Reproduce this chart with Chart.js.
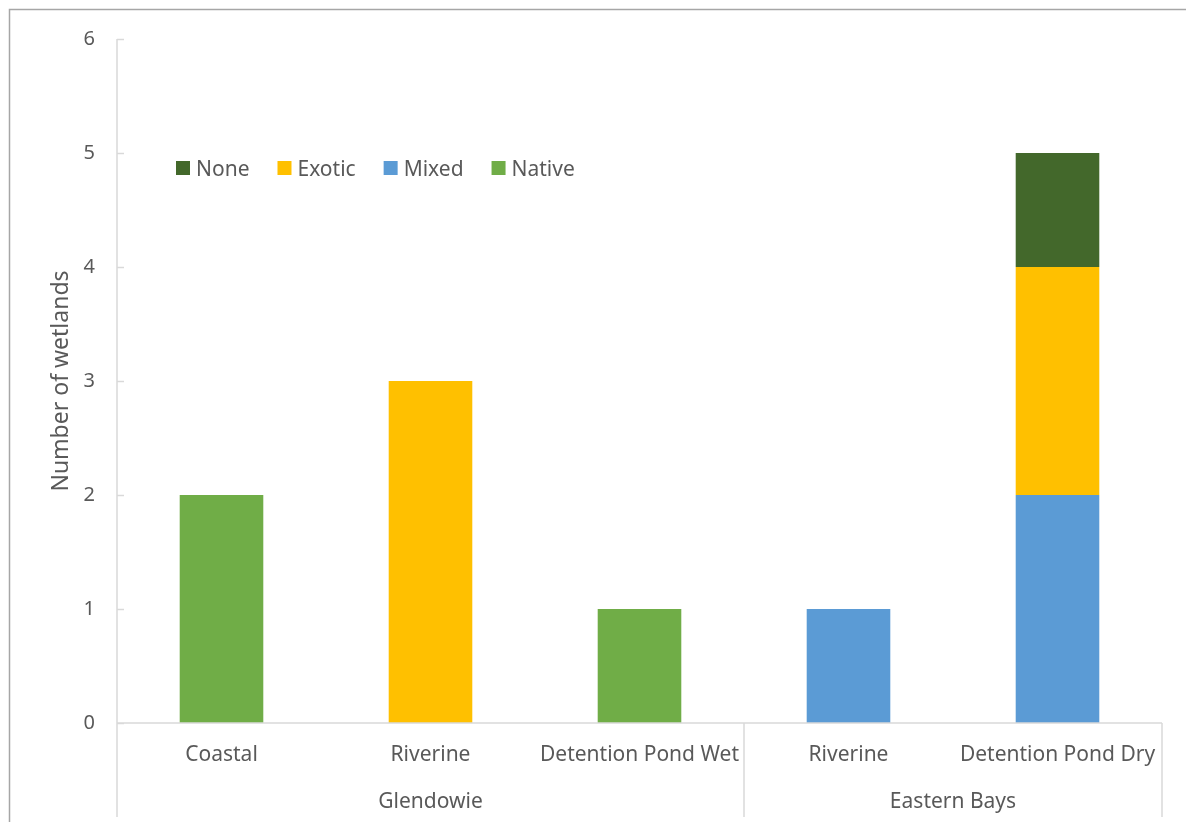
<!DOCTYPE html>
<html>
<head>
<meta charset="utf-8">
<style>
html,body{margin:0;padding:0;background:#fff;}
canvas{display:block;}
</style>
<script src="https://cdn.jsdelivr.net/npm/chart.js@4"></script>
</head>
<body>
<canvas id="c" width="1186" height="822"></canvas>
<script>
const categories = ["Coastal", "Riverine", "Detention Pond Wet", "Riverine", "Detention Pond Dry"];
const groups = [
  { label: "Glendowie", from: 0, to: 2 },
  { label: "Eastern Bays", from: 3, to: 4 }
];
const nativeValues = [2, 0, 1, 0, 0];
const mixedValues  = [0, 0, 0, 1, 2];
const exoticValues = [0, 3, 0, 0, 2];
const noneValues   = [0, 0, 0, 0, 1];
const yTicks = [0, 1, 2, 3, 4, 5, 6];
const yTitle = "Number of wetlands";

const FONT = "'Noto Sans', 'Open Sans', sans-serif";
const TXT = "#595959";
const AXIS = "#D9D9D9";

const decor = {
  id: "decor",
  afterDraw(chart) {
    const ctx = chart.ctx;
    const x = chart.scales.x, y = chart.scales.y;
    const ca = chart.chartArea;
    ctx.save();
    // outer border
    ctx.strokeStyle = "#A6A6A6";
    ctx.lineWidth = 1.5;
    ctx.strokeRect(9.5, 9.5, 1400, 1400);
    // axis lines
    ctx.strokeStyle = AXIS;
    ctx.lineWidth = 1.5;
    ctx.beginPath();
    ctx.moveTo(ca.left, ca.top);
    ctx.lineTo(ca.left, 817);
    ctx.moveTo(ca.left, ca.bottom);
    ctx.lineTo(ca.right, ca.bottom);
    ctx.moveTo(ca.right, ca.bottom);
    ctx.lineTo(ca.right, 817);
    // y ticks inward
    yTicks.forEach(v => {
      const py = Math.round(y.getPixelForValue(v)) + 0.5;
      ctx.moveTo(ca.left, py);
      ctx.lineTo(ca.left + 7, py);
    });
    // group separators
    const half = (x.getPixelForValue(1) - x.getPixelForValue(0)) / 2;
    groups.forEach((g, i) => {
      if (i > 0) {
        const px = x.getPixelForValue(g.from) - half;
        ctx.moveTo(px, ca.bottom);
        ctx.lineTo(px, 817);
      }
    });
    ctx.stroke();
    // group labels
    ctx.fillStyle = TXT;
    ctx.font = "21px " + FONT;
    ctx.textAlign = "center";
    ctx.textBaseline = "middle";
    groups.forEach(g => {
      const l = x.getPixelForValue(g.from) - half;
      const r = x.getPixelForValue(g.to) + half;
      ctx.fillText(g.label, (l + r) / 2, 802);
    });
    // legend (in-plot, reversed order)
    const items = chart.data.datasets.slice().reverse();
    let lx = 176;
    const ly = 168;
    ctx.font = "21px " + FONT;
    ctx.textAlign = "left";
    items.forEach(ds => {
      ctx.fillStyle = ds.backgroundColor;
      ctx.fillRect(lx, ly - 7, 14, 14);
      ctx.fillStyle = TXT;
      ctx.fillText(ds.label, lx + 20, ly + 2);
      lx += 20 + ctx.measureText(ds.label).width + 28;
    });
    ctx.restore();
  }
};

new Chart(document.getElementById("c"), {
  type: "bar",
  data: {
    labels: categories,
    datasets: [
      { label: "Native", data: nativeValues, backgroundColor: "#70AD47" },
      { label: "Mixed",  data: mixedValues,  backgroundColor: "#5B9BD5" },
      { label: "Exotic", data: exoticValues, backgroundColor: "#FFC000" },
      { label: "None",   data: noneValues,   backgroundColor: "#43682B" }
    ]
  },
  options: {
    responsive: false,
    animation: false,
    devicePixelRatio: 1,
    layout: { padding: { top: 39, right: 24, left: 0, bottom: 0 } },
    datasets: { bar: { barPercentage: 0.4, categoryPercentage: 1, borderWidth: 0 } },
    plugins: { legend: { display: false }, tooltip: { enabled: false } },
    scales: {
      x: {
        stacked: true,
        grid: { display: false, drawTicks: false },
        border: { display: false },
        ticks: { color: TXT, font: { family: FONT, size: 21 }, padding: 19, maxRotation: 0, autoSkip: false },
        afterFit(s) { s.height = 99; }
      },
      y: {
        stacked: true,
        min: 0, max: 6,
        grid: { display: false, drawTicks: false },
        border: { display: false },
        ticks: { stepSize: 1, color: TXT, font: { family: FONT, size: 20 }, padding: 22 },
        title: { display: true, text: yTitle, color: TXT, font: { family: FONT, size: 23 }, padding: { top: 48, bottom: 0 } },
        afterFit(s) { s.width = 117; }
      }
    }
  },
  plugins: [decor]
});
</script>
</body>
</html>
